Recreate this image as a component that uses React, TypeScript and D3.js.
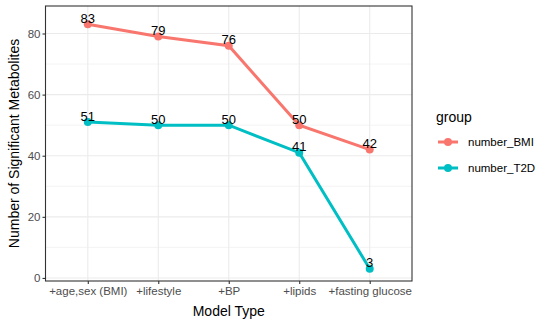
import React, { useEffect, useRef } from "react";
import * as d3 from "d3";

const modelTypes = ["+age,sex (BMI)", "+lifestyle", "+BP", "+lipids", "+fasting glucose"];
const numberBMI = [83, 79, 76, 50, 42];
const numberT2D = [51, 50, 50, 41, 3];
const groupNames = ["number_BMI", "number_T2D"];
const groupColors = ["#F8766D", "#00BFC4"];
const yTicks = [0, 20, 40, 60, 80];

const App: React.FC = () => {
  const svgRef = useRef<SVGSVGElement>(null);

  useEffect(() => {
    const svg = d3.select(svgRef.current);
    svg.selectAll("*").remove();

    const font = "Liberation Sans, Arial, sans-serif";
    const left = 45.5;
    const right = 412;
    const top = 6;
    const bottom = 281;

    // Scales
    const xScale = d3.scalePoint<string>().domain(modelTypes).range([left, right]).padding(0.6);
    const yScale = d3.scaleLinear().domain([-1, 89]).range([bottom, top]);

    const g = svg.append("g");

    // Panel background
    g.append("rect")
      .attr("x", left)
      .attr("y", top)
      .attr("width", right - left)
      .attr("height", bottom - top)
      .attr("fill", "white");

    // Minor grid
    const minor = [10, 30, 50, 70];
    g.selectAll(".minor")
      .data(minor)
      .enter()
      .append("line")
      .attr("x1", left)
      .attr("x2", right)
      .attr("y1", (d) => yScale(d))
      .attr("y2", (d) => yScale(d))
      .attr("stroke", "#EBEBEB")
      .attr("stroke-width", 0.6);

    // Major grid
    g.selectAll(".hgrid")
      .data(yTicks)
      .enter()
      .append("line")
      .attr("x1", left)
      .attr("x2", right)
      .attr("y1", (d) => yScale(d))
      .attr("y2", (d) => yScale(d))
      .attr("stroke", "#EBEBEB")
      .attr("stroke-width", 1.1);

    g.selectAll(".vgrid")
      .data(modelTypes)
      .enter()
      .append("line")
      .attr("x1", (d) => xScale(d)!)
      .attr("x2", (d) => xScale(d)!)
      .attr("y1", top)
      .attr("y2", bottom)
      .attr("stroke", "#EBEBEB")
      .attr("stroke-width", 1.1);

    // Lines and points
    const series = [numberBMI, numberT2D];
    const line = d3
      .line<number>()
      .x((_, i) => xScale(modelTypes[i])!)
      .y((d) => yScale(d));

    series.forEach((vals, si) => {
      g.append("path")
        .datum(vals)
        .attr("d", line)
        .attr("fill", "none")
        .attr("stroke", groupColors[si])
        .attr("stroke-width", 3);

      g.selectAll(".pt" + si)
        .data(vals)
        .enter()
        .append("circle")
        .attr("cx", (_, i) => xScale(modelTypes[i])!)
        .attr("cy", (d) => yScale(d))
        .attr("r", 4)
        .attr("fill", groupColors[si]);
    });

    series.forEach((vals) => {
      g.selectAll(null)
        .data(vals)
        .enter()
        .append("text")
        .attr("x", (_, i) => xScale(modelTypes[i])!)
        .attr("y", (d) => yScale(d) - 1.5)
        .attr("text-anchor", "middle")
        .attr("font-family", font)
        .attr("font-size", 13)
        .attr("fill", "black")
        .text((d) => d);
    });

    // Panel border
    g.append("rect")
      .attr("x", left)
      .attr("y", top)
      .attr("width", right - left)
      .attr("height", bottom - top)
      .attr("fill", "none")
      .attr("stroke", "#333333")
      .attr("stroke-width", 1.1);

    // Y axis
    const yAxis = g
      .append("g")
      .attr("transform", `translate(${left},0)`)
      .call(d3.axisLeft(yScale).tickValues(yTicks).tickSize(3).tickPadding(2));
    yAxis.select(".domain").remove();
    yAxis.selectAll(".tick line").attr("stroke", "#333333").attr("stroke-width", 1.1);
    yAxis
      .selectAll(".tick text")
      .attr("fill", "#4D4D4D")
      .attr("font-family", font)
      .attr("font-size", 11.5);

    // X axis
    const xAxis = g
      .append("g")
      .attr("transform", `translate(0,${bottom})`)
      .call(d3.axisBottom(xScale).tickSize(3).tickPadding(3));
    xAxis.select(".domain").remove();
    xAxis.selectAll(".tick line").attr("stroke", "#333333").attr("stroke-width", 1.1);
    xAxis
      .selectAll(".tick text")
      .attr("fill", "#4D4D4D")
      .attr("font-family", font)
      .attr("font-size", 11.5);

    // Axis titles
    svg
      .append("text")
      .attr("x", (left + right) / 2)
      .attr("y", 316)
      .attr("text-anchor", "middle")
      .attr("font-family", font)
      .attr("font-size", 14)
      .attr("fill", "black")
      .text("Model Type");

    svg
      .append("text")
      .attr("transform", `translate(19,${(top + bottom) / 2}) rotate(-90)`)
      .attr("text-anchor", "middle")
      .attr("font-family", font)
      .attr("font-size", 14)
      .attr("fill", "black")
      .text("Number of Significant Metabolites");

    // Legend
    const legend = svg.append("g");
    legend
      .append("text")
      .attr("x", 436)
      .attr("y", 122)
      .attr("font-family", font)
      .attr("font-size", 14)
      .attr("fill", "black")
      .text("group");

    groupNames.forEach((name, i) => {
      const ly = 142 + i * 26;
      legend
        .append("line")
        .attr("x1", 438)
        .attr("x2", 458)
        .attr("y1", ly)
        .attr("y2", ly)
        .attr("stroke", groupColors[i])
        .attr("stroke-width", 3);
      legend
        .append("circle")
        .attr("cx", 448)
        .attr("cy", ly)
        .attr("r", 4)
        .attr("fill", groupColors[i]);
      legend
        .append("text")
        .attr("x", 468)
        .attr("y", ly + 4)
        .attr("font-family", font)
        .attr("font-size", 11.5)
        .attr("fill", "black")
        .text(name);
    });

    return () => {
      svg.selectAll("*").remove();
    };
  }, []);

  return (
    <svg
      ref={svgRef}
      width="550"
      height="325"
      style={{ position: "absolute", left: 0, top: 0, background: "white" }}
    />
  );
};

export default App;
